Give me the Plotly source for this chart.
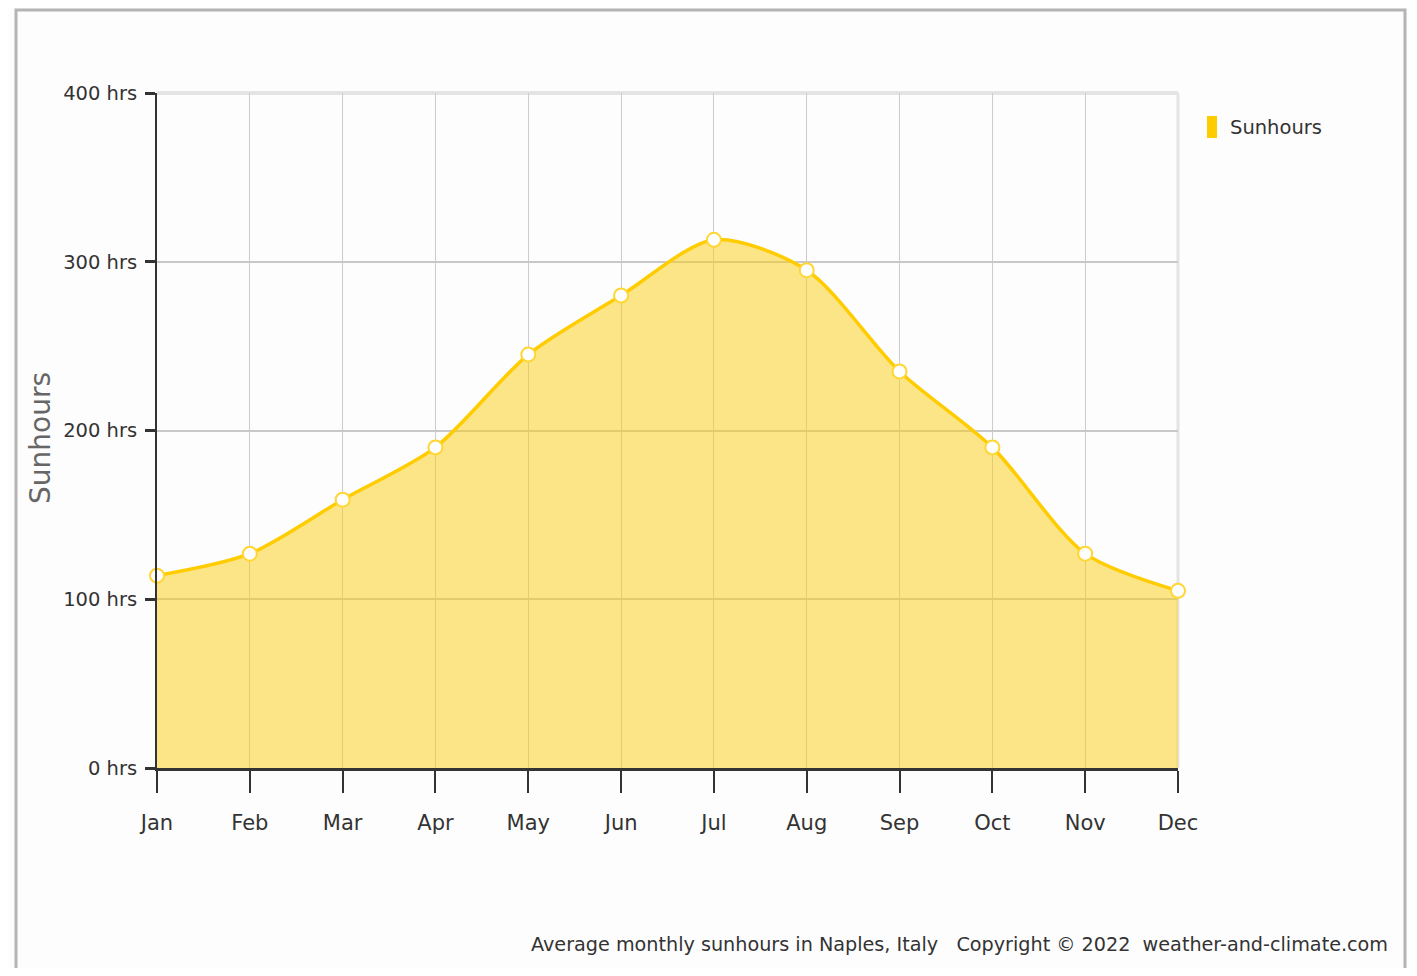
import plotly.graph_objects as go

months = ["Jan", "Feb", "Mar", "Apr", "May", "Jun", "Jul", "Aug", "Sep", "Oct", "Nov", "Dec"]
sunhours = [114, 127, 159, 190, 245, 280, 313, 295, 235, 190, 127, 105]
y_ticks = [0, 100, 200, 300, 400]
y_labels = ["0 hrs", "100 hrs", "200 hrs", "300 hrs", "400 hrs"]

OFF = 8  # page body margin
W, H = 1417 - 2 * OFF, 976 - 2 * OFF
L, R, T, B = 157 - OFF, 1417 - 1178 - OFF, 93 - OFF, 976 - 768 - OFF
pw, ph = W - L - R, H - T - B

FONT = "DejaVu Sans, Verdana, sans-serif"

fig = go.Figure()
fig.add_trace(go.Scatter(
    x=months, y=sunhours, mode="lines+markers", name="Sunhours",
    line=dict(color="#FFCC00", width=3.5, shape="spline", smoothing=0.8),
    fill="tozeroy", fillcolor="rgba(251,205,15,0.5)",
    marker=dict(size=14, color="white", line=dict(color="#FFD633", width=2)),
    showlegend=False, cliponaxis=False,
))

fig.update_layout(
    width=W, height=H,
    margin=dict(l=L, r=R, t=T, b=B, pad=0),
    paper_bgcolor="#FDFDFD", plot_bgcolor="#FDFDFD",
    font=dict(family=FONT, color="#333333", size=20),
    xaxis=dict(
        type="category", range=[0, 11], showgrid=True, gridcolor="#CCCCCC", gridwidth=1,
        showline=True, linecolor="#333333", linewidth=3,
        ticks="outside", ticklen=22, tickwidth=2, tickcolor="#333333",
        tickfont=dict(family=FONT, size=21, color="#333333"),
        ticklabelstandoff=12,
        zeroline=False,
    ),
    yaxis=dict(
        range=[0, 400], tickvals=y_ticks, ticktext=y_labels,
        showgrid=True, gridcolor="#C8C8C8", gridwidth=2,
        showline=True, linecolor="#333333", linewidth=2,
        ticks="outside", ticklen=10, tickwidth=3, tickcolor="#333333",
        tickfont=dict(family=FONT, size=19.5, color="#333333"),
        ticklabelstandoff=4,
        zeroline=False,
    ),
)

def px_x(x):
    return (x - OFF - L) / pw

def px_y(y):
    return (H - B - (y - OFF)) / ph

# y-axis title
fig.add_annotation(xref="paper", yref="paper", x=px_x(40), y=px_y(438),
                   text="Sunhours", textangle=-90, showarrow=False,
                   xanchor="center", yanchor="middle",
                   font=dict(family=FONT, size=28, color="#666666"))

# plot frame (light) on top and right
fig.add_shape(type="line", xref="paper", yref="paper", x0=0, x1=1, y0=1, y1=1,
              line=dict(color="#E4E4E4", width=4), layer="below")
fig.add_shape(type="line", xref="paper", yref="paper", x0=1, x1=1, y0=0, y1=1,
              line=dict(color="#E4E4E4", width=3), layer="below")

# outer border of the image
fig.add_shape(type="rect", xref="paper", yref="paper",
              x0=px_x(16), x1=px_x(1405), y0=px_y(10), y1=px_y(1000),
              line=dict(color="#B4B4B4", width=3), fillcolor="rgba(0,0,0,0)")

# legend
fig.add_shape(type="rect", xref="paper", yref="paper",
              x0=px_x(1207), x1=px_x(1217), y0=px_y(138), y1=px_y(116),
              line=dict(width=0), fillcolor="#FFCC00")
fig.add_annotation(xref="paper", yref="paper", x=px_x(1228), y=px_y(127),
                   text="Sunhours", showarrow=False, xanchor="left", yanchor="middle",
                   font=dict(family=FONT, size=19.5, color="#333333"))

# footer
fig.add_annotation(xref="paper", yref="paper", x=px_x(1390), y=px_y(944),
                   text="Average monthly sunhours in Naples, Italy &nbsp; Copyright © 2022 &nbsp;weather-and-climate.com",
                   showarrow=False, xanchor="right", yanchor="middle",
                   font=dict(family=FONT, size=19.2, color="#333333"))

fig.write_html("out.html")
